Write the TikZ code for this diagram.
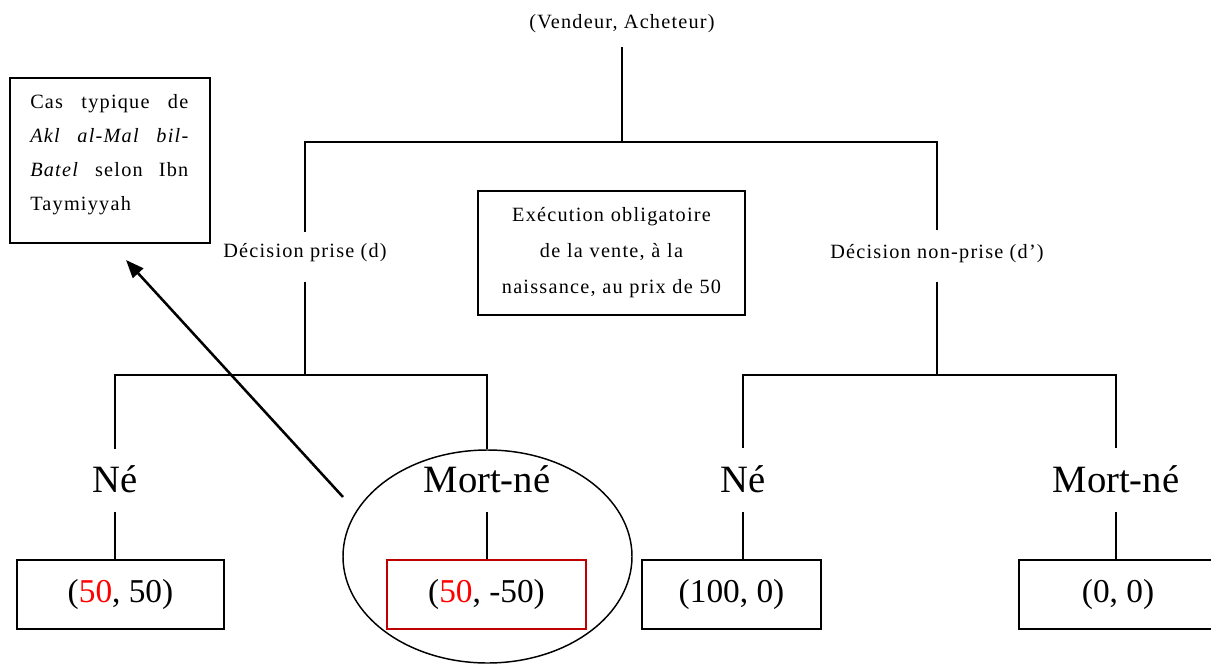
\documentclass[tikz,border=0pt]{standalone}
\usepackage{fontspec}
\setmainfont{Liberation Serif}
\newfontfamily\spacedserif[LetterSpace=6]{Liberation Serif}
\usetikzlibrary{arrows.meta,shapes.geometric}
\definecolor{payred}{RGB}{255,0,0}
\definecolor{boxred}{RGB}{192,0,0}
\newcommand{\px}{0.75pt}

\begin{document}
\begin{tikzpicture}[x=0.75pt,y=-0.75pt,
  tree/.style={line width=1.25pt},
  smalltext/.style={inner sep=0pt, font=\spacedserif\fontsize{15.2}{26}\selectfont},
  bigtext/.style={inner sep=0pt, anchor=base, font=\fontsize{29}{34}\selectfont},
  payoff/.style={draw, line width=1.5pt, inner sep=0pt,
    minimum height=69*\px, font=\fontsize{25}{30}\selectfont},
  infobox/.style={draw, line width=1.5pt, inner sep=0pt},
  pointer/.style={line width=1.9pt, -{Triangle[length=13.5pt,width=10.5pt]}}]
\useasboundingbox (0,0) rectangle (1211,664);

% root of the game tree
\node[smalltext, anchor=base] (root) at (622,28) {(Vendeur, Acheteur)};
\coordinate (rootfoot) at (622,47);
\coordinate (split) at (622,142);

% first decision level
\node[smalltext, anchor=base] (dec) at (305,257) {Décision prise (d)};
\node[smalltext, anchor=base] (nodec) at (937,258) {Décision non-prise (d’)};
\coordinate (dectop) at (305,232);
\coordinate (decbot) at (305,282);
\coordinate (nodectop) at (937,230);
\coordinate (nodecbot) at (937,282);
\coordinate (decsplit) at (305,375);
\coordinate (nodecsplit) at (937,375);

% outcomes of nature
\node[bigtext] (ne1) at (115,492) {Né};
\node[bigtext] (mn1) at (487,492) {Mort-né};
\node[bigtext] (ne2) at (743,492) {Né};
\node[bigtext] (mn2) at (1116,492) {Mort-né};
\coordinate (ne1top) at (115,449);
\coordinate (mn1top) at (487,449);
\coordinate (ne2top) at (743,448);
\coordinate (mn2top) at (1116,448);
\coordinate (ne1foot) at (115,512);
\coordinate (mn1foot) at (487,512);
\coordinate (ne2foot) at (743,512);
\coordinate (mn2foot) at (1116,512);

% payoffs (seller, buyer)
\node[payoff, minimum width=207*\px] (p1) at (120.5,594.5) {(\textcolor{payred}{50}, 50)};
\node[payoff, draw=boxred, minimum width=199*\px] (p2) at (486.5,594.5) {(\textcolor{payred}{50}, -50)};
\node[payoff, minimum width=179*\px] (p3) at (731.5,594.5) {(100, 0)};
\node[payoff, minimum width=198*\px] (p4) at (1118,594.5) {(0, 0)};

% tree connectors
\draw[tree] (rootfoot) -- (split);
\draw[tree] (dectop) |- (split) -| (nodectop);
\draw[tree] (decbot) -- (decsplit);
\draw[tree] (nodecbot) -- (nodecsplit);
\draw[tree] (ne1top) |- (decsplit) -| (mn1top);
\draw[tree] (ne2top) |- (nodecsplit) -| (mn2top);
\draw[tree] (ne1foot) -- (ne1foot |- p1.north);
\draw[tree] (mn1foot) -- (mn1foot |- p2.north);
\draw[tree] (ne2foot) -- (ne2foot |- p3.north);
\draw[tree] (mn2foot) -- (mn2foot |- p4.north);

% forced execution of the sale
\node[infobox, minimum width=267*\px, minimum height=124*\px] (exec) at (611.5,253) {};
\node[smalltext, anchor=base, align=center, text width=250*\px,
  font=\spacedserif\fontsize{15.2}{27.2}\selectfont] (exectext) at (611.5,221)
  {Exécution obligatoire\\de la vente, à la\\naissance, au prix de 50};

% note on the typical case
\node[infobox, minimum width=200*\px, minimum height=165*\px] (note) at (110,160.5) {};
\node[smalltext, anchor=base west, align=left, text width=158*\px,
  font=\spacedserif\fontsize{15.2}{25.6}\selectfont] (notetext) at (30,108)
  {Cas\hfill typique\hfill de\\
   \textit{Akl}\hfill\textit{al-Mal}\hfill\textit{bil-}\\
   \textit{Batel}\hfill selon\hfill Ibn\\
   Taymiyyah};

% highlighted outcome and pointer to the note
\node[draw, ellipse, line width=1.1pt, minimum width=289*\px, minimum height=213*\px]
  (focus) at (487.5,556.5) {};
\coordinate (pointfrom) at (343,497);
\coordinate (pointto) at (126,260);
\draw[pointer] (pointfrom) -- (pointto);
\end{tikzpicture}
\end{document}
